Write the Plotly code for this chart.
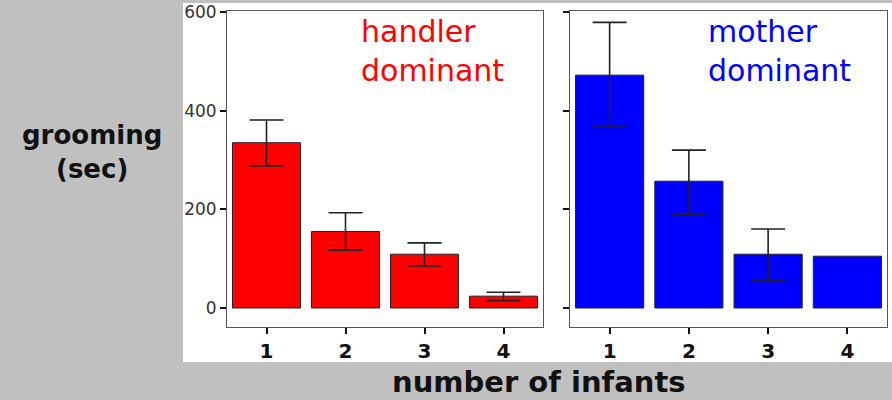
import plotly.graph_objects as go

categories = ["1", "2", "3", "4"]
handler_vals = [335, 155, 109, 24]
handler_err_plus = [46, 38, 23, 8]
handler_err_minus = [47, 38, 24, 9]
mother_vals = [472, 257, 109, 105]
# the 4th mother bar has no error bar
mother_err_cats = ["1", "2", "3"]
mother_err_plus = [107, 63, 51]
mother_err_minus = [105, 67, 53]
y_ticks = [0, 200, 400, 600]

W, H = 892, 400
def px(x): return x / W
def py(y): return 1 - y / H

fig = go.Figure()
panels = [
    (handler_vals, categories, handler_vals, handler_err_plus, handler_err_minus, "#ff0000", ("x", "y")),
    (mother_vals, mother_err_cats, mother_vals[:3], mother_err_plus, mother_err_minus, "#0000ff", ("x2", "y2")),
]
for vals, ecats, evals, ep, em, col, ax in panels:
    fig.add_trace(go.Bar(
        x=categories, y=vals, width=0.86,
        marker=dict(color=col, line=dict(color="#222222", width=1)),
        xaxis=ax[0], yaxis=ax[1], showlegend=False, hoverinfo="skip",
    ))
    fig.add_trace(go.Scatter(
        x=ecats, y=evals, mode="markers", marker=dict(size=1, opacity=0),
        error_y=dict(type="data", symmetric=False, array=ep, arrayminus=em,
                     visible=True, color="#222222", thickness=1.6, width=17),
        xaxis=ax[0], yaxis=ax[1], showlegend=False, hoverinfo="skip",
    ))

yr = [-38.5, 602]
common_x = dict(type="category", range=[-0.5, 3.5], showline=True, mirror=True,
                linecolor="#555555", linewidth=1, ticks="outside", ticklen=6,
                tickwidth=2, tickcolor="#111111", showgrid=False, zeroline=False,
                tickfont=dict(family="DejaVu Sans", size=20, color="#111111"),
                automargin=False)
common_y = dict(range=yr, tickvals=y_ticks, showline=True, mirror=True,
                linecolor="#555555", linewidth=1, ticks="outside", ticklen=6,
                tickwidth=2, tickcolor="#111111", showgrid=False, zeroline=False,
                tickfont=dict(family="DejaVu Sans", size=17, color="#333333"),
                automargin=False)

fig.update_layout(
    width=W, height=H,
    margin=dict(l=0, r=0, t=0, b=0),
    paper_bgcolor="#c0c0c0", plot_bgcolor="white",
    xaxis=dict(domain=[px(227), px(543)], anchor="y",
               tickvals=categories, ticktext=["<b>%s</b>" % c for c in categories], **common_x),
    yaxis=dict(domain=[py(327), py(11)], anchor="x", **common_y),
    xaxis2=dict(domain=[px(570), px(887)], anchor="y2",
                tickvals=categories, ticktext=["<b>%s</b>" % c for c in categories], **common_x),
    yaxis2=dict(domain=[py(327), py(11)], anchor="x2", showticklabels=False, **common_y),
    shapes=[dict(type="rect", xref="paper", yref="paper", x0=px(183), x1=1,
                 y0=py(362), y1=py(3), fillcolor="white", line=dict(width=0),
                 layer="below")],
    annotations=[
        dict(text="handler<br>dominant", xref="paper", yref="paper", x=px(359), y=py(12),
             xanchor="left", yanchor="top", align="left", showarrow=False,
             font=dict(family="DejaVu Sans", size=30, color="#ff0000")),
        dict(text="mother<br>dominant", xref="paper", yref="paper", x=px(706), y=py(12),
             xanchor="left", yanchor="top", align="left", showarrow=False,
             font=dict(family="DejaVu Sans", size=30, color="#0000ff")),
        dict(text="<b>grooming<br>(sec)</b>", xref="paper", yref="paper", x=px(92), y=py(152),
             xanchor="center", yanchor="middle", align="center", showarrow=False,
             font=dict(family="DejaVu Sans", size=26, color="#111111")),
        dict(text="<b>number of infants</b>", xref="paper", yref="paper", x=px(539), y=py(382),
             xanchor="center", yanchor="middle", showarrow=False,
             font=dict(family="DejaVu Sans", size=29, color="#111111")),
    ],
)

fig.write_html("out.html", config={"displayModeBar": False},
               post_script="document.body.style.margin='0';document.body.style.overflow='hidden';")
